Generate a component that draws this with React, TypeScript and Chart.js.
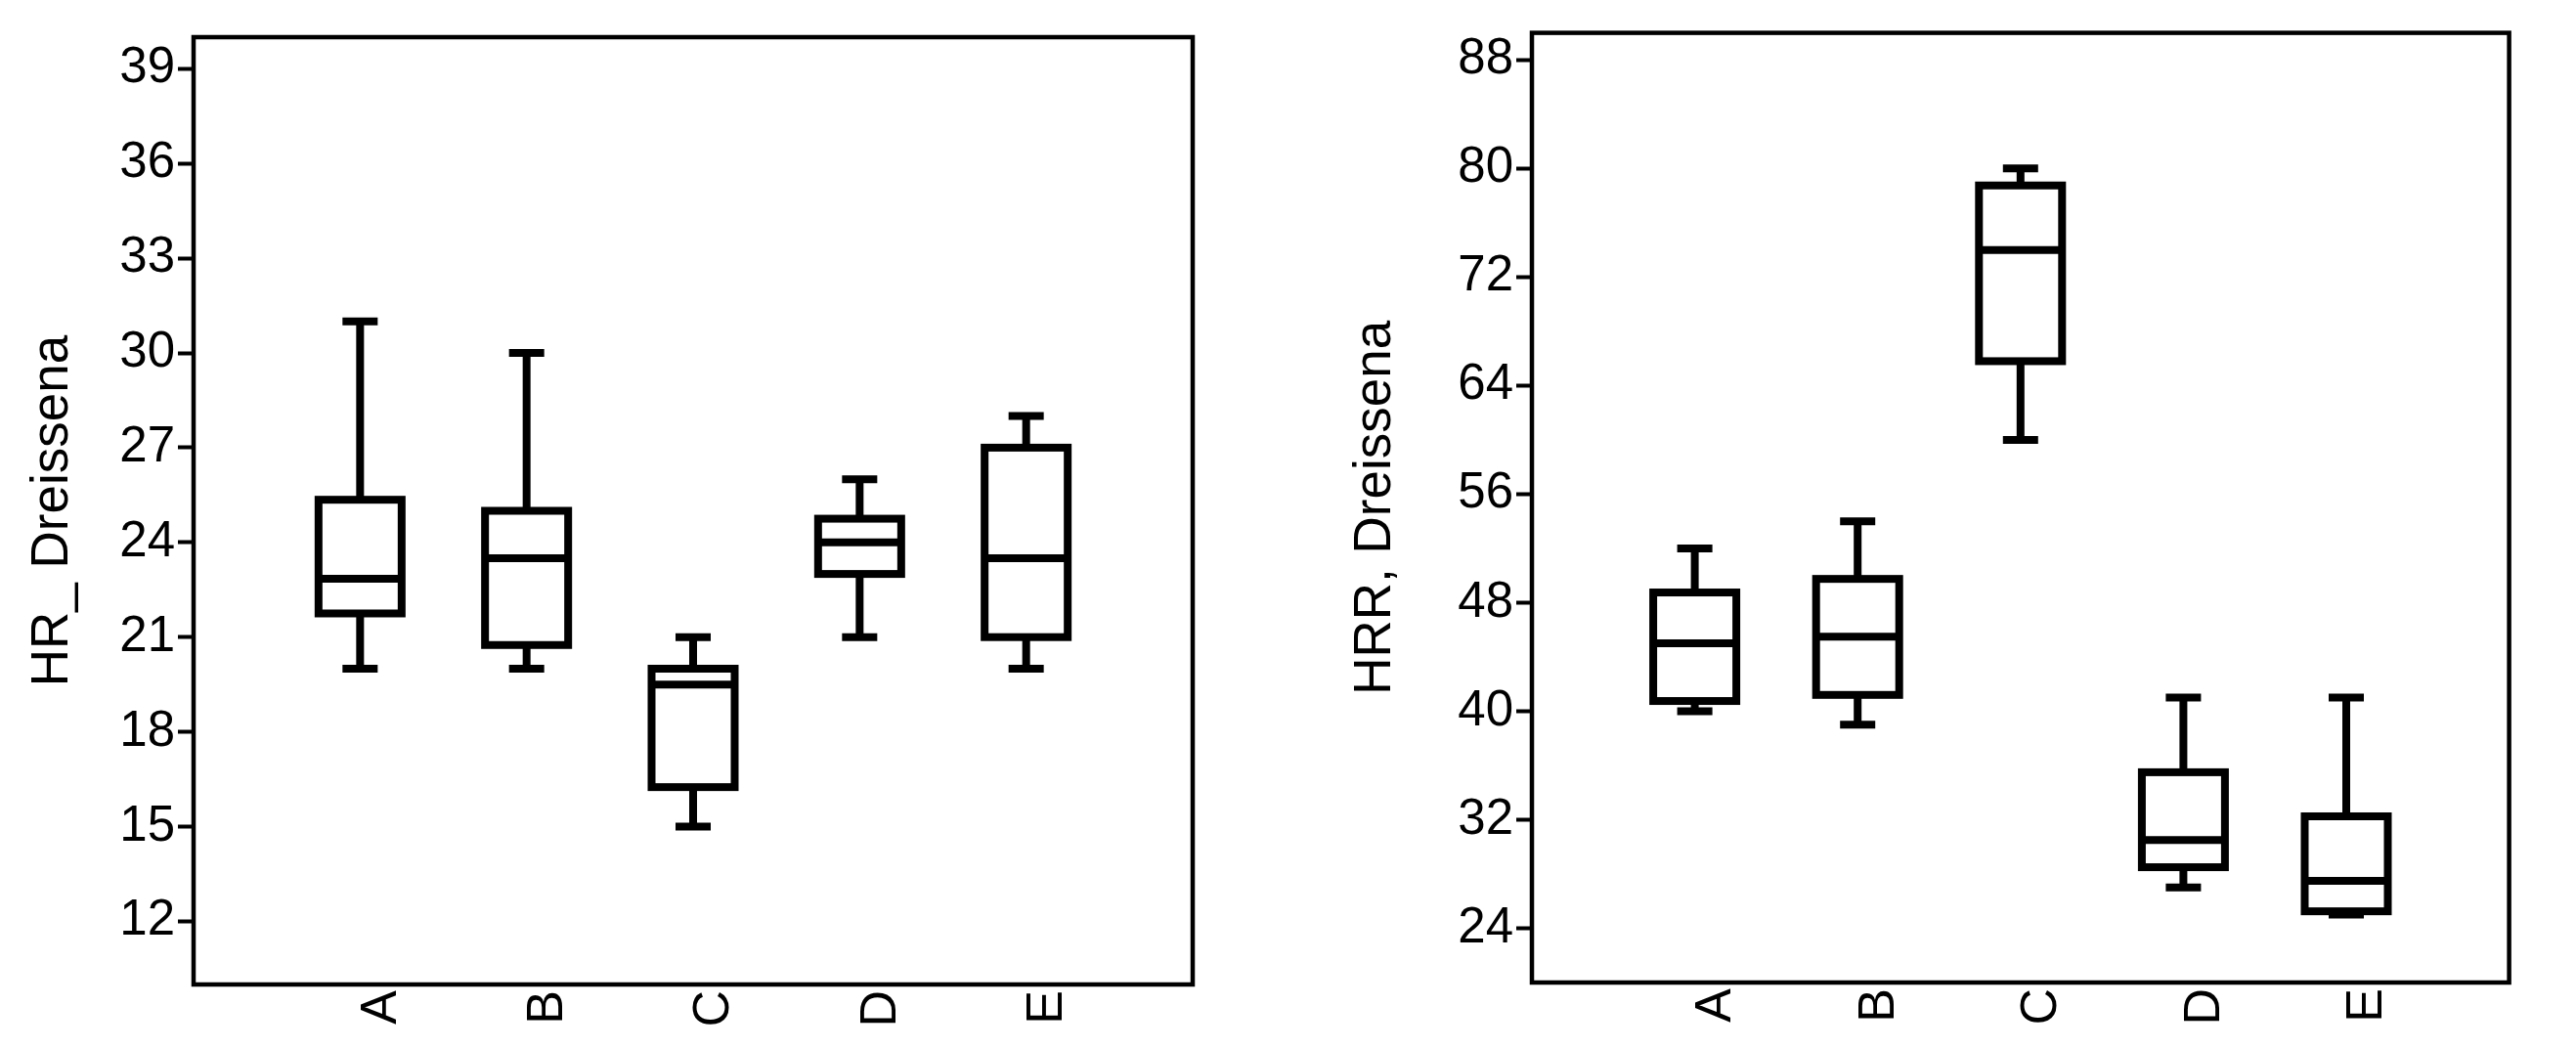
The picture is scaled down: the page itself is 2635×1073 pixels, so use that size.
import React, { useEffect, useRef } from 'react';
import { Chart, registerables } from 'chart.js';

Chart.register(...registerables);

// ---- data ----
const CATEGORIES = ['A', 'B', 'C', 'D', 'E'];

const HR_TITLE = 'HR_ Dreissena';
const HR_MIN = [20, 20, 15, 21, 20];
const HR_Q1 = [21.75, 20.75, 16.25, 23, 21];
const HR_MEDIAN = [22.85, 23.5, 19.5, 24, 23.5];
const HR_Q3 = [25.35, 25, 20, 24.75, 27];
const HR_MAX = [31, 30, 21, 26, 28];
const HR_TICKS = [12, 15, 18, 21, 24, 27, 30, 33, 36, 39];
const HR_RANGE = [10, 40];

const HRR_TITLE = 'HRR, Dreissena';
const HRR_MIN = [40, 39, 60, 27, 25];
const HRR_Q1 = [40.75, 41.2, 65.8, 28.5, 25.25];
const HRR_MEDIAN = [45, 45.5, 74, 30.5, 27.5];
const HRR_Q3 = [48.75, 49.75, 78.75, 35.5, 32.25];
const HRR_MAX = [52, 54, 80, 41, 41];
const HRR_TICKS = [24, 32, 40, 48, 56, 64, 72, 80, 88];
const HRR_RANGE = [20, 90];

const FONT = "'Liberation Sans', Arial, sans-serif";

type Stats = { min: number[]; q1: number[]; med: number[]; q3: number[]; max: number[] };

type Geo = {
  left: number;
  width: number;
  padLeft: number;
  padTop: number;
  padRight: number;
  axisWidth: number;
  xAxisHeight: number;
};

function makeBoxPlugin(stats: Stats) {
  return {
    id: 'boxStrokes',
    afterDatasetsDraw(chart: any) {
      const { ctx } = chart;
      const xs = chart.scales.x;
      const ys = chart.scales.y;
      const bw = 85;
      const cw = 36;
      ctx.save();
      ctx.strokeStyle = '#000';
      ctx.lineWidth = 8;
      ctx.lineCap = 'butt';
      ctx.lineJoin = 'miter';
      CATEGORIES.forEach((_, i) => {
        const x = xs.getPixelForValue(i + 1);
        const yMin = ys.getPixelForValue(stats.min[i]);
        const yQ1 = ys.getPixelForValue(stats.q1[i]);
        const yMed = ys.getPixelForValue(stats.med[i]);
        const yQ3 = ys.getPixelForValue(stats.q3[i]);
        const yMax = ys.getPixelForValue(stats.max[i]);
        ctx.beginPath();
        ctx.moveTo(x, yQ3);
        ctx.lineTo(x, yMax);
        ctx.moveTo(x, yQ1);
        ctx.lineTo(x, yMin);
        ctx.moveTo(x - cw / 2, yMax);
        ctx.lineTo(x + cw / 2, yMax);
        ctx.moveTo(x - cw / 2, yMin);
        ctx.lineTo(x + cw / 2, yMin);
        ctx.stroke();
        ctx.fillStyle = '#fff';
        ctx.fillRect(x - bw / 2, yQ3, bw, yQ1 - yQ3);
        ctx.strokeRect(x - bw / 2, yQ3, bw, yQ1 - yQ3);
        ctx.beginPath();
        ctx.moveTo(x - bw / 2, yMed);
        ctx.lineTo(x + bw / 2, yMed);
        ctx.stroke();
      });
      ctx.restore();
    },
  };
}

const framePlugin = {
  id: 'frame',
  afterDraw(chart: any) {
    const { ctx, chartArea } = chart;
    ctx.save();
    ctx.strokeStyle = '#000';
    ctx.lineWidth = 4.5;
    ctx.strokeRect(chartArea.left, chartArea.top, chartArea.right - chartArea.left, chartArea.bottom - chartArea.top);
    ctx.restore();
  },
};

function BoxPanel(props: {
  title: string;
  stats: Stats;
  range: number[];
  ticks: number[];
  geo: Geo;
}) {
  const ref = useRef<HTMLCanvasElement | null>(null);
  const { title, stats, range, ticks, geo } = props;

  useEffect(() => {
    if (!ref.current) return;
    const labels = ['', ...CATEGORIES, ''];
    const boxData: any[] = [null, ...CATEGORIES.map((_, i) => [stats.q1[i], stats.q3[i]]), null];
    const chart = new Chart(ref.current, {
      type: 'bar',
      data: {
        labels,
        datasets: [
          {
            data: boxData,
            backgroundColor: '#ffffff',
            borderWidth: 0,
            barThickness: 85,
          },
        ],
      },
      options: {
        animation: false,
        responsive: false,
        events: [],
        layout: {
          padding: { left: geo.padLeft, top: geo.padTop, right: geo.padRight, bottom: 0 },
        },
        plugins: {
          legend: { display: false },
          tooltip: { enabled: false },
        },
        scales: {
          x: {
            type: 'category',
            offset: false,
            grid: { display: false, drawTicks: false },
            border: { display: false },
            ticks: {
              autoSkip: false,
              minRotation: 90,
              maxRotation: 90,
              padding: 6,
              labelOffset: 22,
              color: '#000',
              font: { family: FONT, size: 52 },
            },
            afterFit: (s: any) => {
              s.height = geo.xAxisHeight;
            },
          },
          y: {
            type: 'linear',
            min: range[0],
            max: range[1],
            grid: {
              display: true,
              drawOnChartArea: false,
              drawTicks: true,
              tickLength: 16,
              tickWidth: 4,
              tickColor: '#000',
            },
            border: { display: false },
            ticks: {
              padding: 3,
              color: '#000',
              font: { family: FONT, size: 51 },
            },
            title: {
              display: true,
              text: title,
              color: '#000',
              font: { family: FONT, size: 53 },
              padding: { top: 16, bottom: 0 },
            },
            afterBuildTicks: (s: any) => {
              s.ticks = ticks.map((v) => ({ value: v }));
            },
            afterFit: (s: any) => {
              s.width = geo.axisWidth;
            },
          },
        },
      },
      plugins: [makeBoxPlugin(stats), framePlugin],
    } as any);
    return () => chart.destroy();
  }, []);

  return (
    <div style={{ position: 'absolute', left: geo.left, top: 0, width: geo.width, height: 1073 }}>
      <canvas ref={ref} width={geo.width} height={1073} style={{ width: geo.width, height: 1073, display: 'block' }} />
    </div>
  );
}

export default function App() {
  return (
    <div style={{ position: 'absolute', left: 0, top: 0, width: 2635, height: 1073, background: '#fff', overflow: 'hidden' }}>
      <BoxPanel
        title={HR_TITLE}
        stats={{ min: HR_MIN, q1: HR_Q1, med: HR_MEDIAN, q3: HR_Q3, max: HR_MAX }}
        range={HR_RANGE}
        ticks={HR_TICKS}
        geo={{ left: 0, width: 1300, padLeft: 7, padTop: 38, padRight: 80, axisWidth: 191, xAxisHeight: 66 }}
      />
      <BoxPanel
        title={HRR_TITLE}
        stats={{ min: HRR_MIN, q1: HRR_Q1, med: HRR_MEDIAN, q3: HRR_Q3, max: HRR_MAX }}
        range={HRR_RANGE}
        ticks={HRR_TICKS}
        geo={{ left: 1300, width: 1335, padLeft: 60, padTop: 31, padRight: 34, axisWidth: 207, xAxisHeight: 68 }}
      />
    </div>
  );
}
